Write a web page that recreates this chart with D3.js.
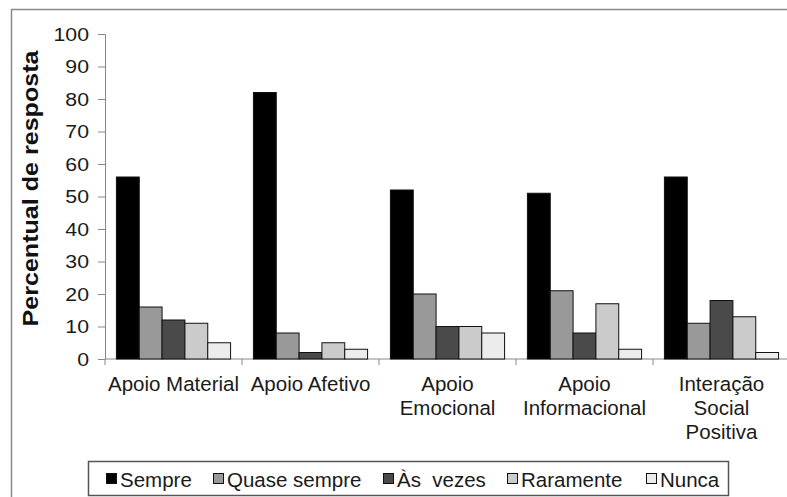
<!DOCTYPE html>
<html><head><meta charset="utf-8">
<script src="https://cdn.jsdelivr.net/npm/d3@7"></script>
<style>body{margin:0;background:#fff}svg{display:block}</style>
</head><body>
<script>
const categories = [["Apoio Material"],["Apoio Afetivo"],["Apoio","Emocional"],["Apoio","Informacional"],["Interação","Social","Positiva"]];
const series = ["Sempre","Quase sempre","Às  vezes","Raramente","Nunca"];
const sempre = [56,82,52,51,56];
const quaseSempre = [16,8,20,21,11];
const asVezes = [12,2,10,8,18];
const raramente = [11,5,10,17,13];
const nunca = [5,3,8,3,2];
const yTicks = [0,10,20,30,40,50,60,70,80,90,100];
const colors = ["#000000","#999999","#4a4a4a","#cbcbcb","#ececec"];

const values = [sempre, quaseSempre, asVezes, raramente, nunca];
const W = 787, H = 497;
const svg = d3.select("body").append("svg").attr("width", W).attr("height", H);
const font = "'Liberation Sans', Arial, sans-serif";

svg.append("rect").attr("x",11.5).attr("y",9.5).attr("width",800).attr("height",520)
  .attr("fill","#fff").attr("stroke","#8a8a8a").attr("stroke-width",1.5);

const x0 = d3.scaleBand().domain(d3.range(categories.length)).range([105, 790]).paddingInner(0).paddingOuter(0);
const x1 = d3.scaleBand().domain(d3.range(series.length)).range([0, x0.bandwidth()]).paddingOuter(0.5).paddingInner(0);
const y = d3.scaleLinear().domain([0,100]).range([359, 34]);

// y axis
const yAxis = svg.append("g").attr("transform","translate(105,0)")
  .call(d3.axisLeft(y).tickValues(yTicks).tickSize(7).tickFormat(""));
yAxis.select(".domain").attr("stroke","#888");
yAxis.selectAll(".tick line").attr("stroke","#888");
svg.append("g").selectAll("text").data(yTicks).join("text")
  .attr("transform", d => `translate(89,${y(d)+6.5}) scale(1.15,1)`)
  .attr("text-anchor","end").attr("font-family",font).attr("font-size",18.5).attr("fill","#1a1a1a")
  .text(d => d);

// x axis
const xAxis = svg.append("g").attr("transform","translate(0,359)");
xAxis.append("line").attr("x1",105).attr("x2",790).attr("stroke","#888");
xAxis.selectAll("line.t").data(d3.range(categories.length+1)).join("line")
  .attr("class","t")
  .attr("x1", i => i < categories.length ? x0(i) : x0(i-1)+x0.bandwidth())
  .attr("x2", i => i < categories.length ? x0(i) : x0(i-1)+x0.bandwidth())
  .attr("y1",0).attr("y2",6).attr("stroke","#888");

// bars
const groups = svg.append("g").selectAll("g").data(d3.range(categories.length)).join("g")
  .attr("transform", i => `translate(${x0(i)},0)`);
groups.selectAll("rect").data(i => values.map((s,k) => ({k, v: s[i]}))).join("rect")
  .attr("x", d => x1(d.k)).attr("width", x1.bandwidth())
  .attr("y", d => y(d.v)).attr("height", d => y(0) - y(d.v))
  .attr("fill", d => colors[d.k]).attr("stroke","#111").attr("stroke-width",1);

// category labels
categories.forEach((lines, i) => {
  const t = svg.append("text").attr("text-anchor","middle").attr("font-family",font)
    .attr("font-size",20.5).attr("fill","#1a1a1a");
  lines.forEach((ln, j) => {
    t.append("tspan").attr("x", x0(i) + x0.bandwidth()/2).attr("y", 391 + j*24).text(ln);
  });
});

// y title
svg.append("text").attr("transform","translate(38,188.5) rotate(-90) scale(1.14,1)")
  .attr("text-anchor","middle").attr("font-family",font).attr("font-size",22)
  .attr("font-weight","bold").attr("fill","#111").text("Percentual de resposta");

// legend
svg.append("rect").attr("x",88.5).attr("y",461.5).attr("width",640).attr("height",34)
  .attr("fill","#fff").attr("stroke","#555").attr("stroke-width",1.5);
const legX = [106, 213, 383, 507, 646];
series.forEach((s, k) => {
  svg.append("rect").attr("x", legX[k]+0.5).attr("y", 473.5).attr("width",10).attr("height",10)
    .attr("fill", colors[k]).attr("stroke","#111").attr("stroke-width",1);
  svg.append("text").attr("x", legX[k]+14).attr("y", 487).attr("font-family",font)
    .attr("font-size",20.5).attr("fill","#1a1a1a").attr("xml:space","preserve").style("white-space","pre").text(s);
});
</script>
</body></html>
